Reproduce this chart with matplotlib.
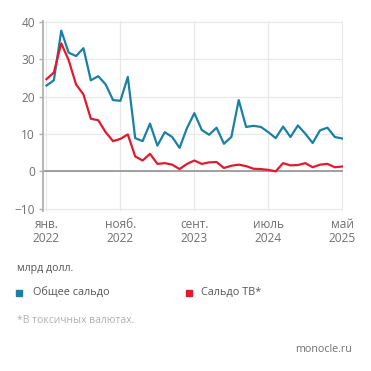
import matplotlib
matplotlib.use("Agg")
import matplotlib.pyplot as plt
from matplotlib.lines import Line2D

plt.rcParams['font.family'] = ['Open Sans', 'DejaVu Sans']

# monthly data, Jan 2022 .. May 2025 (41 months), bn USD
months = list(range(41))
total_balance = [23.0, 24.4, 37.7, 31.8, 30.9, 33.0, 24.4, 25.5, 23.3, 19.1,
                 18.9, 25.3, 8.9, 8.1, 12.8, 6.9, 10.5, 9.2, 6.3, 11.6,
                 15.6, 11.1, 9.8, 11.7, 7.4, 9.2, 19.1, 11.9, 12.2, 11.9,
                 10.5, 8.9, 12.0, 9.2, 12.3, 10.1, 7.6, 11.0, 11.7, 9.2, 8.8]
toxic_balance = [24.7, 26.5, 34.3, 29.8, 23.3, 20.6, 14.1, 13.7, 10.5, 8.1,
                 8.7, 9.9, 4.0, 2.9, 4.7, 2.0, 2.2, 1.8, 0.6, 2.0,
                 2.9, 2.0, 2.4, 2.5, 0.9, 1.5, 1.8, 1.4, 0.7, 0.6,
                 0.4, 0.0, 2.2, 1.6, 1.7, 2.2, 1.1, 1.8, 2.0, 1.1, 1.3]
tick_pos = [0, 10, 20, 30, 40]
tick_labels = ['янв.\n2022', 'нояб.\n2022', 'сент.\n2023', 'июль\n2024', 'май\n2025']
y_ticks = [-10, 0, 10, 20, 30, 40]

blue = '#1a80a4'
red = '#e11a2e'
grey_txt = '#707070'

fig = plt.figure(figsize=(3.71, 3.71), dpi=100)
ax = fig.add_axes([0.1167, 0.4315, 0.8078, 0.511])

ax.plot(months, total_balance, color=blue, lw=1.6, zorder=3)
ax.plot(months, toxic_balance, color=red, lw=1.6, zorder=3)
ax.axhline(0, color='#a0a0a0', lw=1.4, zorder=2)

ax.set_xlim(-0.43, 40.1)
ax.set_ylim(-10.6, 40.2)
ax.set_yticks(y_ticks)
ax.set_xticks(tick_pos)
ax.set_xticklabels(tick_labels, linespacing=1.1)
ax.grid(True, color='#e8e8e8', lw=0.9, zorder=0)

for s in ['top', 'right', 'bottom']:
    ax.spines[s].set_visible(False)
ax.spines['left'].set_color('#b0b0b0')
ax.spines['left'].set_linewidth(1.3)

ax.tick_params(axis='y', length=3, width=1, color='#b0b0b0', pad=3,
               labelsize=8.6, labelcolor=grey_txt)
ax.tick_params(axis='x', length=0, pad=5, labelsize=8.6, labelcolor=grey_txt)

# unit label, legend and notes
fig.text(17 / 371, 1 - 268 / 371, 'млрд долл.', fontsize=7.6, color='#555555', va='center')
fig.add_artist(Line2D([19 / 371], [1 - 292.5 / 371], marker='s', ms=4.2, color=blue,
                      transform=fig.transFigure))
fig.text(33 / 371, 1 - 292.5 / 371, 'Общее сальдо', fontsize=7.8, color='#555555', va='center')
fig.add_artist(Line2D([188.5 / 371], [1 - 292.5 / 371], marker='s', ms=4.2, color=red,
                      transform=fig.transFigure))
fig.text(200.5 / 371, 1 - 292.5 / 371, 'Сальдо ТВ*', fontsize=7.8, color='#555555', va='center')
fig.text(17 / 371, 1 - 320.5 / 371, '*В токсичных валютах.', fontsize=7.5, color='#b0b0b0', va='center')
fig.text(352 / 371, 1 - 349 / 371, 'monocle.ru', fontsize=7.7, color=grey_txt, va='center', ha='right')

fig.savefig('out.png', dpi=100)
